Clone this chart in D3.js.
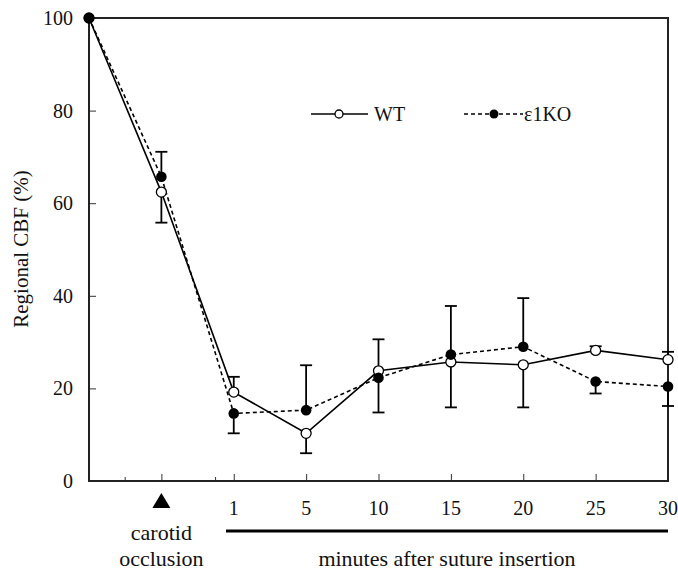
<!DOCTYPE html>
<html>
<head>
<meta charset="utf-8">
<script src="https://cdn.jsdelivr.net/npm/d3@7"></script>
<style>
  body { margin: 0; background: #fff; }
  text { font-family: "Liberation Serif", "Times New Roman", serif; fill: #111; }
</style>
</head>
<body>
<script>
// time points (first is baseline, second is carotid occlusion)
var timePoints = ["base", "occl", "1", "5", "10", "15", "20", "25", "30"];
var tickLabels = ["", "", "1", "5", "10", "15", "20", "25", "30"];

// regional CBF (%)
var wtMean = [100, 62.4, 19.2, 10.3, 23.8, 25.7, 25.1, 28.2, 26.2];
var wtErr  = [0, 6.6, 3.3, 4.3, 6.8, 9.8, 9.2, 0.9, 1.7];
var koMean = [100, 65.7, 14.6, 15.3, 22.3, 27.3, 29.0, 21.5, 20.4];
var koErr  = [0, 5.4, 4.3, 9.7, 7.5, 10.5, 10.5, 2.6, 4.2];

var yTicks = [0, 20, 40, 60, 80, 100];

window.onload = drawChart();

function drawChart(){
    var width = 678,
        height = 570;

    var svg = d3.select("body")
        .append("svg")
        .attr("width", width)
        .attr("height", height);

    var left = 89, right = 668, top = 18, bottom = 481;

    var x = d3.scalePoint()
        .domain(timePoints)
        .range([left, right]);

    var y = d3.scaleLinear()
        .domain([0, 100])
        .range([bottom, top]);

    //y axis with inward ticks
    var yAxis = svg.append("g")
        .attr("transform", "translate(" + left + ",0)")
        .call(d3.axisLeft(y).tickValues(yTicks).tickSize(-7).tickPadding(16))
        .attr("font-family", null)
        .attr("font-size", null);
    yAxis.select(".domain").remove();
    yAxis.selectAll("line").attr("stroke", "#333").attr("stroke-width", 1);
    yAxis.selectAll("text")
        .style("font-family", "'Liberation Serif', serif")
        .style("font-size", "20px")
        .attr("fill", "#111");

    //x axis ticks (inward)
    var xAxis = svg.append("g")
        .attr("transform", "translate(0," + bottom + ")")
        .call(d3.axisBottom(x).tickValues(timePoints.slice(1)).tickSize(-7).tickFormat(""));
    xAxis.select(".domain").remove();
    xAxis.selectAll("line").attr("stroke", "#333").attr("stroke-width", 1);

    //minor ticks between the first points
    svg.selectAll(".minor")
        .data([[timePoints[0], timePoints[1]], [timePoints[1], timePoints[2]]])
        .enter()
        .append("line")
        .attr("x1", function(d){ return (x(d[0]) + x(d[1])) / 2 + (d[0] === "occl" ? 18 : 0); })
        .attr("x2", function(d){ return (x(d[0]) + x(d[1])) / 2 + (d[0] === "occl" ? 18 : 0); })
        .attr("y1", bottom)
        .attr("y2", bottom - 4)
        .attr("stroke", "#333");

    //frame
    svg.append("path")
        .attr("d", "M" + left + "," + top + "V" + bottom + "H" + right + "V" + top + "Z")
        .attr("fill", "none")
        .attr("stroke", "#222")
        .attr("stroke-width", 2);

    //x tick labels
    svg.selectAll(".xlab")
        .data(timePoints)
        .enter()
        .append("text")
        .attr("x", function(d){ return x(d); })
        .attr("y", 515)
        .attr("text-anchor", "middle")
        .style("font-size", "20px")
        .text(function(d, i){ return tickLabels[i]; });

    //triangle for carotid occlusion
    var cx = x("occl");
    svg.append("path")
        .attr("d", "M" + cx + ",493L" + (cx + 9) + ",508L" + (cx - 9) + ",508Z")
        .attr("fill", "#000");

    svg.append("text")
        .attr("x", cx).attr("y", 540)
        .attr("text-anchor", "middle")
        .style("font-size", "22px")
        .text("carotid");
    svg.append("text")
        .attr("x", cx).attr("y", 566)
        .attr("text-anchor", "middle")
        .style("font-size", "22px")
        .text("occlusion");

    //bar under the minute labels
    svg.append("line")
        .attr("x1", 226).attr("x2", right)
        .attr("y1", 531).attr("y2", 531)
        .attr("stroke", "#000")
        .attr("stroke-width", 3);

    svg.append("text")
        .attr("x", (226 + right) / 2).attr("y", 566)
        .attr("text-anchor", "middle")
        .style("font-size", "22px")
        .text("minutes after suture insertion");

    //y label
    svg.append("text")
        .attr("transform", "translate(28,249) rotate(-90)")
        .attr("text-anchor", "middle")
        .style("font-size", "21px")
        .text("Regional CBF (%)");

    var line = d3.line()
        .x(function(d){ return x(d.t); })
        .y(function(d){ return y(d.v); });

    var wt = timePoints.map(function(t, i){ return {t: t, v: wtMean[i], e: wtErr[i], other: koMean[i]}; });
    var ko = timePoints.map(function(t, i){ return {t: t, v: koMean[i], e: koErr[i], other: wtMean[i]}; });

    svg.append("path")
        .datum(wt)
        .attr("d", line)
        .attr("fill", "none")
        .attr("stroke", "#000")
        .attr("stroke-width", 1.6);

    svg.append("path")
        .datum(ko)
        .attr("d", line)
        .attr("fill", "none")
        .attr("stroke", "#000")
        .attr("stroke-width", 1.6)
        .attr("stroke-dasharray", "4,3");

    //error bars: the higher group goes up, the lower one down
    var bars = wt.concat(ko).filter(function(d){ return d.e > 0; });
    var eb = svg.selectAll(".err")
        .data(bars)
        .enter()
        .append("g");
    function endY(d){ return d.v >= d.other ? y(d.v + d.e) : y(d.v - d.e); }
    eb.append("line")
        .attr("x1", function(d){ return x(d.t); })
        .attr("x2", function(d){ return x(d.t); })
        .attr("y1", function(d){ return y(d.v); })
        .attr("y2", endY)
        .attr("stroke", "#000")
        .attr("stroke-width", 1.8);
    eb.append("line")
        .attr("x1", function(d){ return x(d.t) - 6; })
        .attr("x2", function(d){ return x(d.t) + 6; })
        .attr("y1", endY)
        .attr("y2", endY)
        .attr("stroke", "#000")
        .attr("stroke-width", 1.8);

    svg.selectAll(".wtdot")
        .data(wt)
        .enter()
        .append("circle")
        .attr("cx", function(d){ return x(d.t); })
        .attr("cy", function(d){ return y(d.v); })
        .attr("r", 5)
        .attr("fill", "#fff")
        .attr("stroke", "#000")
        .attr("stroke-width", 1.3);

    svg.selectAll(".kodot")
        .data(ko)
        .enter()
        .append("circle")
        .attr("cx", function(d){ return x(d.t); })
        .attr("cy", function(d){ return y(d.v); })
        .attr("r", 5.3)
        .attr("fill", "#000");

    //legend
    var ly = 114;
    svg.append("line")
        .attr("x1", 311).attr("x2", 368)
        .attr("y1", ly).attr("y2", ly)
        .attr("stroke", "#000").attr("stroke-width", 1.6);
    svg.append("circle")
        .attr("cx", 339).attr("cy", ly).attr("r", 4)
        .attr("fill", "#fff").attr("stroke", "#000").attr("stroke-width", 1.3);
    svg.append("text")
        .attr("x", 374).attr("y", ly + 7)
        .style("font-size", "20px")
        .text("WT");

    svg.append("line")
        .attr("x1", 464).attr("x2", 523)
        .attr("y1", ly).attr("y2", ly)
        .attr("stroke", "#000").attr("stroke-width", 1.4)
        .attr("stroke-dasharray", "4,3");
    svg.append("circle")
        .attr("cx", 494).attr("cy", ly).attr("r", 4.5)
        .attr("fill", "#000");
    svg.append("text")
        .attr("x", 524).attr("y", ly + 7)
        .style("font-size", "20px")
        .text("ε1KO");
}
</script>
</body>
</html>
